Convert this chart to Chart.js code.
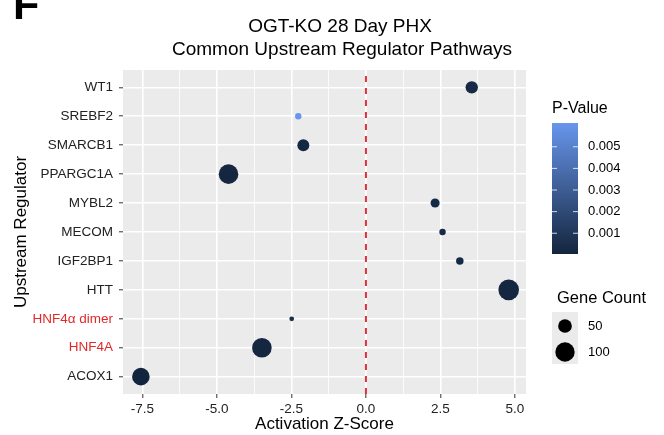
<!DOCTYPE html>
<html>
<head>
<meta charset="utf-8">
<script src="https://cdn.jsdelivr.net/npm/chart.js@4.4.1/dist/chart.umd.min.js"></script>
<style>
  body { margin: 0; background: #fff; }
  #wrap { width: 664px; height: 435px; }
</style>
</head>
<body>
<div id="wrap"><canvas id="chart" width="664" height="435"></canvas></div>
<script>
// data
const regulators = ['WT1', 'SREBF2', 'SMARCB1', 'PPARGC1A', 'MYBL2', 'MECOM', 'IGF2BP1', 'HTT', 'HNF4α dimer', 'HNF4A', 'ACOX1'];
const zScores = [3.55, -2.27, -2.10, -4.61, 2.32, 2.57, 3.15, 4.79, -2.49, -3.49, -7.55];
const geneCounts = [41, 11, 38, 102, 22, 11, 15, 113, 6, 102, 82];
const pValues = [0.0003, 0.0061, 0.0002, 0.0001, 0.0003, 0.0004, 0.0003, 0.0001, 0.0005, 0.0001, 0.00004];
const redLabels = ['HNF4α dimer', 'HNF4A'];
const xTicks = [-7.5, -5.0, -2.5, 0.0, 2.5, 5.0];
const pTicks = [0.001, 0.002, 0.003, 0.004, 0.005];
const sizeBreaks = [50, 100];
const refLine = 0;

const FONT = "'Liberation Sans', Arial, sans-serif";
const pMin = Math.min(...pValues), pMax = Math.max(...pValues);
const lowCol = [19, 37, 62], highCol = [104, 150, 236];

function pColor(p) {
    const t = (p - pMin) / (pMax - pMin);
    const c = lowCol.map((v, k) => Math.round(v + (highCol[k] - v) * t));
    return 'rgb(' + c.join(',') + ')';
}
function radius(n) {
    return 0.97 * Math.sqrt(n);
}
function isMajor(v) {
    return xTicks.some(t => Math.abs(t - v) < 1e-6);
}

// major + minor x grid
const xGrid = [];
for (let i = 0; i < xTicks.length; i++) {
    xGrid.push(xTicks[i]);
    if (i < xTicks.length - 1) xGrid.push((xTicks[i] + xTicks[i + 1]) / 2);
}

const extras = {
    id: 'extras',
    beforeDraw(chart) {
        const { ctx, chartArea: a } = chart;
        ctx.save();
        ctx.fillStyle = '#ebebeb';
        ctx.fillRect(a.left, a.top, a.right - a.left, a.bottom - a.top);
        ctx.restore();
    },
    beforeDatasetsDraw(chart) {
        const { ctx, chartArea: a } = chart;
        const x = chart.scales.x.getPixelForValue(refLine);
        ctx.save();
        ctx.strokeStyle = '#e0303c';
        ctx.lineWidth = 2;
        ctx.setLineDash([6, 6]);
        ctx.beginPath();
        ctx.moveTo(x, a.bottom);
        ctx.lineTo(x, a.top);
        ctx.stroke();
        ctx.restore();
    },
    afterDraw(chart) {
        const ctx = chart.ctx;
        ctx.save();
        // panel letter
        ctx.fillStyle = '#000';
        ctx.font = 'bold 43px ' + FONT;
        ctx.textAlign = 'left';
        ctx.textBaseline = 'alphabetic';
        ctx.fillText('F', 13, 19);

        // title
        ctx.font = '19px ' + FONT;
        ctx.textAlign = 'center';
        ctx.fillText('OGT-KO 28 Day PHX', 340, 32);
        ctx.fillText('Common Upstream Regulator Pathways', 342, 55);

        // colour bar legend
        const bx = 552, bw = 26, bTop = 123, bBot = 254;
        ctx.textAlign = 'left';
        ctx.font = '16px ' + FONT;
        ctx.fillText('P-Value', 552, 113);
        for (let y = bTop; y < bBot; y++) {
            const p = pMin + (bBot - y - 0.5) / (bBot - bTop) * (pMax - pMin);
            ctx.fillStyle = pColor(p);
            ctx.fillRect(bx, y, bw, 1);
        }
        ctx.font = '13px ' + FONT;
        ctx.textBaseline = 'middle';
        pTicks.forEach(p => {
            const y = bBot - (p - pMin) / (pMax - pMin) * (bBot - bTop);
            ctx.strokeStyle = 'rgba(255,255,255,0.8)';
            ctx.lineWidth = 1;
            ctx.beginPath();
            ctx.moveTo(bx, y); ctx.lineTo(bx + 5, y);
            ctx.moveTo(bx + bw - 5, y); ctx.lineTo(bx + bw, y);
            ctx.stroke();
            ctx.fillStyle = '#000';
            ctx.fillText(p.toFixed(3), 588, y);
        });

        // size legend
        ctx.textBaseline = 'alphabetic';
        ctx.font = '16.5px ' + FONT;
        ctx.fillText('Gene Count', 557, 303);
        ctx.fillStyle = '#ebebeb';
        ctx.fillRect(552, 312, 26, 52);
        ctx.font = '13px ' + FONT;
        ctx.textBaseline = 'middle';
        sizeBreaks.forEach((n, i) => {
            const y = 326 + i * 26;
            ctx.fillStyle = '#000';
            ctx.beginPath();
            ctx.arc(565, y, radius(n), 0, Math.PI * 2);
            ctx.fill();
            ctx.fillText(String(n), 588, y);
        });
        ctx.restore();
    }
};

new Chart(document.getElementById('chart'), {
    type: 'bubble',
    data: {
        datasets: [{
            data: regulators.map((r, i) => ({ x: zScores[i], y: i, r: radius(geneCounts[i]) })),
            backgroundColor: pValues.map(pColor),
            borderWidth: 0
        }]
    },
    options: {
        responsive: false,
        devicePixelRatio: 1,
        animation: false,
        events: [],
        layout: { padding: { top: 70, right: 138, left: 0, bottom: 0 } },
        plugins: { legend: { display: false }, tooltip: { enabled: false }, title: { display: false } },
        scales: {
            x: {
                type: 'linear',
                min: -8.15,
                max: 5.37,
                afterBuildTicks: s => { s.ticks = xGrid.map(v => ({ value: v })); },
                afterFit: s => { s.height = 41; },
                ticks: {
                    autoSkip: false,
                    maxRotation: 0,
                    padding: 3,
                    color: '#222',
                    font: { family: FONT, size: 13.5 },
                    callback: v => isMajor(v) ? v.toFixed(1) : ''
                },
                grid: {
                    color: '#ffffff',
                    lineWidth: c => isMajor(c.tick.value) ? 1.6 : 0.8,
                    tickColor: c => isMajor(c.tick.value) ? '#333' : 'rgba(0,0,0,0)',
                    tickWidth: 1,
                    tickLength: 4
                },
                border: { display: false },
                title: {
                    display: true,
                    text: 'Activation Z-Score',
                    color: '#000',
                    font: { family: FONT, size: 17 },
                    padding: { top: 0, bottom: 0 }
                }
            },
            y: {
                type: 'linear',
                reverse: true,
                min: -0.6,
                max: regulators.length - 0.4,
                afterBuildTicks: s => { s.ticks = regulators.map((_, i) => ({ value: i })); },
                afterFit: s => { s.width = 123; },
                ticks: {
                    autoSkip: false,
                    padding: 6,
                    font: { family: FONT, size: 13.5 },
                    color: c => redLabels.includes(regulators[c.tick.value]) ? '#e02a2a' : '#222',
                    callback: v => regulators[v]
                },
                grid: {
                    color: '#ffffff',
                    lineWidth: 1.6,
                    tickColor: '#333',
                    tickWidth: 1,
                    tickLength: 4
                },
                border: { display: false },
                title: {
                    display: true,
                    text: 'Upstream Regulator',
                    color: '#000',
                    font: { family: FONT, size: 17 },
                    padding: { top: 11, bottom: 0 }
                }
            }
        }
    },
    plugins: [extras]
});
</script>
</body>
</html>
